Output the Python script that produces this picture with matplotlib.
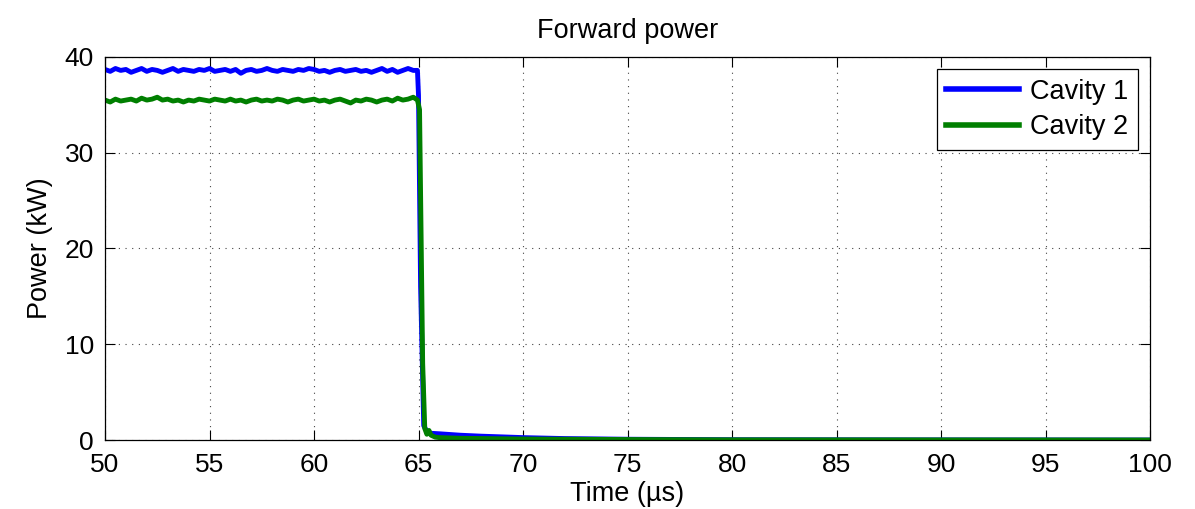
import matplotlib
matplotlib.use("Agg")
import matplotlib.pyplot as plt

plt.rcParams['font.family'] = ['Liberation Sans', 'DejaVu Sans']

# Time axis for the flat-top part (µs), 0.25 µs steps from 50 to 64.75
t_flat = [50.0, 50.25, 50.5, 50.75, 51.0, 51.25, 51.5, 51.75, 52.0, 52.25, 52.5, 52.75,
          53.0, 53.25, 53.5, 53.75, 54.0, 54.25, 54.5, 54.75, 55.0, 55.25, 55.5, 55.75,
          56.0, 56.25, 56.5, 56.75, 57.0, 57.25, 57.5, 57.75, 58.0, 58.25, 58.5, 58.75,
          59.0, 59.25, 59.5, 59.75, 60.0, 60.25, 60.5, 60.75, 61.0, 61.25, 61.5, 61.75,
          62.0, 62.25, 62.5, 62.75, 63.0, 63.25, 63.5, 63.75, 64.0, 64.25, 64.5, 64.75]

# Cavity 1 (blue) forward power on the flat top, kW
p1_flat = [38.7, 38.5, 38.8, 38.6, 38.7, 38.4, 38.6, 38.8, 38.5, 38.7, 38.6, 38.4,
           38.6, 38.8, 38.5, 38.7, 38.6, 38.5, 38.7, 38.6, 38.8, 38.5, 38.6, 38.7,
           38.5, 38.7, 38.3, 38.6, 38.7, 38.5, 38.6, 38.8, 38.6, 38.5, 38.7, 38.6,
           38.5, 38.7, 38.6, 38.8, 38.7, 38.5, 38.6, 38.4, 38.6, 38.7, 38.5, 38.6,
           38.7, 38.5, 38.6, 38.4, 38.6, 38.8, 38.5, 38.7, 38.4, 38.6, 38.8, 38.6]

# Cavity 2 (green) forward power on the flat top, kW
p2_flat = [35.5, 35.3, 35.6, 35.4, 35.5, 35.6, 35.4, 35.7, 35.5, 35.6, 35.8, 35.5,
           35.6, 35.4, 35.5, 35.3, 35.5, 35.4, 35.6, 35.5, 35.4, 35.6, 35.5, 35.4,
           35.6, 35.4, 35.5, 35.3, 35.5, 35.6, 35.4, 35.5, 35.4, 35.6, 35.5, 35.3,
           35.5, 35.6, 35.4, 35.5, 35.6, 35.4, 35.5, 35.3, 35.5, 35.6, 35.4, 35.2,
           35.5, 35.4, 35.6, 35.5, 35.3, 35.5, 35.6, 35.4, 35.7, 35.5, 35.6, 35.8]

# Fall and tail after the pulse (µs, kW)
t1_tail = [64.95, 65.0, 65.1, 65.25, 65.4, 65.6, 66.0, 67.0, 68.0, 70.0, 72.0, 75.0, 80.0, 90.0, 100.0]
p1_tail = [38.6, 36.0, 16.0, 1.5, 0.9, 0.7, 0.65, 0.5, 0.4, 0.25, 0.15, 0.08, 0.03, 0.01, 0.0]
t2_tail = [64.95, 65.05, 65.2, 65.3, 65.4, 65.5, 65.6, 65.8, 66.0, 67.0, 70.0, 75.0, 80.0, 90.0, 100.0]
p2_tail = [35.5, 34.5, 8.0, 1.2, 0.6, 1.0, 0.5, 0.3, 0.25, 0.18, 0.1, 0.05, 0.02, 0.01, 0.0]

xticks = [50, 55, 60, 65, 70, 75, 80, 85, 90, 95, 100]
yticks = [0, 10, 20, 30, 40]

fig = plt.figure(figsize=(11.95, 5.09), dpi=100)
ax = fig.add_axes([105/1195, 1-440/509, (1150-105)/1195, (440-57)/509])

ax.plot(t_flat + t1_tail, p1_flat + p1_tail, color='#0000ff', lw=3.5,
        label='Cavity 1', solid_joinstyle='round')
ax.plot(t_flat + t2_tail, p2_flat + p2_tail, color='#007f00', lw=3.5,
        label='Cavity 2', solid_joinstyle='round')

ax.set_xlim(50, 100)
ax.set_ylim(0, 40)
ax.set_xticks(xticks)
ax.set_yticks(yticks)
ax.tick_params(direction='in', top=True, right=True, labelsize=19, length=7)
ax.tick_params(axis='x', pad=9)
ax.tick_params(axis='y', pad=8)
ax.grid(True, linestyle=(0, (1, 5)), color='#444444', linewidth=0.8)
for s in ax.spines.values():
    s.set_linewidth(0.9)

ax.set_xlabel('Time (\u00b5s)', fontsize=19.5, labelpad=3)
ax.set_ylabel('Power (kW)', fontsize=19.5, labelpad=8)
ax.set_title('Forward power', fontsize=19.5, pad=14)

leg = ax.legend(loc='upper right', fontsize=19.5, fancybox=False, framealpha=1,
                edgecolor='black', handlelength=2.7, borderpad=0.35, labelspacing=0.35,
                handletextpad=0.4, borderaxespad=0.45)
leg.get_frame().set_linewidth(0.9)
for line in leg.get_lines():
    line.set_linewidth(4)

fig.savefig('out.png', dpi=100)
